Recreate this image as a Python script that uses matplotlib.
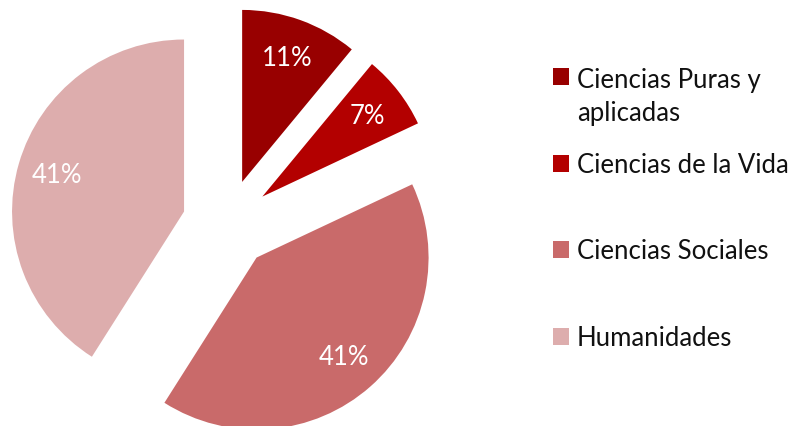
import matplotlib.pyplot as plt
from matplotlib.patches import Rectangle

labels = ['Ciencias Puras y\naplicadas', 'Ciencias de la Vida', 'Ciencias Sociales', 'Humanidades']
values = [11, 7, 41, 41]
colors = ['#980000', '#B30000', '#C96A6A', '#DDADAD']

plt.rcParams['font.family'] = ['Lato', 'DejaVu Sans']

fig = plt.figure(figsize=(7.97, 4.27), dpi=100)
ax = fig.add_axes([0, 0, 1, 1])

r_px = 172
cx, cy = 227, 427 - 225

wedges, texts, autotexts = ax.pie(
    values, colors=colors, startangle=90, counterclock=False,
    explode=[0.26] * 4, autopct='%1.0f%%', pctdistance=0.77,
    textprops={'color': 'white', 'fontsize': 18.5},
    wedgeprops={'linewidth': 0},
)
ax.set_xlim(-cx / r_px, (797 - cx) / r_px)
ax.set_ylim(-cy / r_px, (427 - cy) / r_px)
ax.axis('off')

# legend drawn by hand (Excel-style spacing)
baselines = [86, 173, 259, 346]
line_px = 35
for lab, col, b in zip(labels, colors, baselines):
    fig.add_artist(Rectangle((553 / 797, (427 - b) / 427), 16 / 797, 17 / 427,
                             transform=fig.transFigure, color=col, lw=0))
    extra = lab.count('\n') * line_px
    fig.text(577 / 797, (427 - b - extra) / 427, lab, fontsize=18.5, color='#111111',
             va='baseline', ha='left', linespacing=1.38)

fig.savefig('out.png', dpi=100)
